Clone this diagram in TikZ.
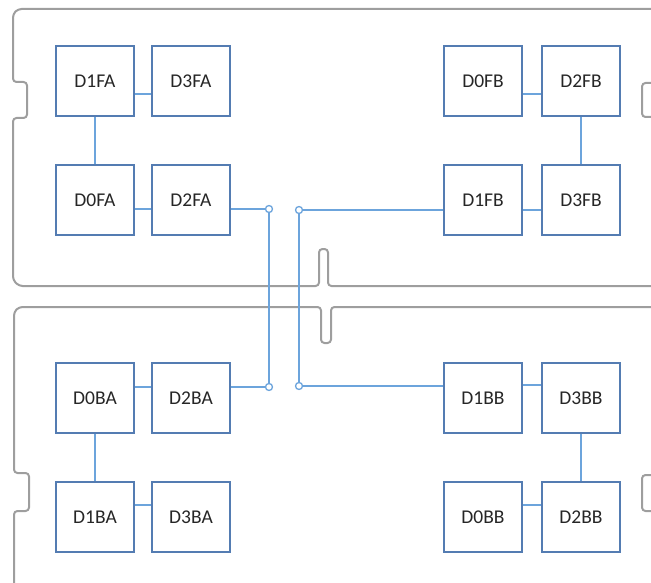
\documentclass[tikz,border=0pt]{standalone}
\usepackage{fontspec}
\setmainfont{Carlito}
\usepackage{xcolor}
\usepackage{tikz}
\definecolor{boxblue}{RGB}{84,124,178}
\definecolor{wireblue}{RGB}{108,164,220}
\definecolor{boardgray}{RGB}{158,158,158}
\tikzstyle{box}=[fill=white, draw=boxblue, line width=1.4pt, shape=rectangle, minimum width=78pt, minimum height=70pt, inner sep=0pt, font=\fontsize{19.5}{22}\selectfont, text=black!85]
\tikzstyle{wire}=[-, draw=wireblue, line width=1.4pt]
\tikzstyle{junction}=[fill=white, draw=wireblue, line width=1.3pt, shape=circle, minimum size=7pt, inner sep=0pt]
\tikzstyle{board}=[draw=boardgray, line width=2pt, rounded corners=3.5pt]
\pgfdeclarelayer{nodelayer}
\pgfdeclarelayer{edgelayer}
\pgfsetlayers{edgelayer,nodelayer,main}

\begin{document}
\begin{tikzpicture}[x=1pt, y=-1pt]
    	\useasboundingbox (0,0) rectangle (651,583);
    	\begin{pgfonlayer}{nodelayer}
    		\node [style=box] (D1FA) at (95, 81) {D1FA};
    		\node [style=box] (D3FA) at (191, 81) {D3FA};
    		\node [style=box] (D0FA) at (95, 200) {D0FA};
    		\node [style=box] (D2FA) at (191, 200) {D2FA};
    		\node [style=box] (D0FB) at (483, 81) {D0FB};
    		\node [style=box] (D2FB) at (581, 81) {D2FB};
    		\node [style=box] (D1FB) at (483, 200) {D1FB};
    		\node [style=box] (D3FB) at (581, 200) {D3FB};
    		\node [style=box] (D0BA) at (95, 398) {D0BA};
    		\node [style=box] (D2BA) at (191, 398) {D2BA};
    		\node [style=box] (D1BA) at (95, 517) {D1BA};
    		\node [style=box] (D3BA) at (191, 517) {D3BA};
    		\node [style=box] (D1BB) at (483, 398) {D1BB};
    		\node [style=box] (D3BB) at (581, 398) {D3BB};
    		\node [style=box] (D0BB) at (483, 517) {D0BB};
    		\node [style=box] (D2BB) at (581, 517) {D2BB};
    		\node [style=junction] (j1) at (269, 209) {};
    		\node [style=junction] (j2) at (299, 210) {};
    		\node [style=junction] (j3) at (269, 387) {};
    		\node [style=junction] (j4) at (299, 386) {};
    	\end{pgfonlayer}
    	\begin{pgfonlayer}{edgelayer}
    		% upper board
    		\draw [style=board] (651, 9) -- (18, 9) -- (13, 14) -- (13, 82) -- (27, 82) -- (27, 118) -- (13, 118) -- (13, 280) -- (19, 286) -- (319, 286) -- (319, 249) -- (328, 249) -- (328, 286) -- (651, 286);
    		\draw [style=board] (651, 83) -- (642, 83) -- (642, 117) -- (651, 117);
    		% lower board
    		\draw [style=board] (651, 307) -- (331, 307) -- (331, 343) -- (321, 343) -- (321, 307) -- (19, 307) -- (14, 312) -- (14, 473) -- (29, 473) -- (29, 511) -- (14, 511) -- (14, 583);
    		\draw [style=board] (651, 475) -- (642, 475) -- (642, 511) -- (651, 511);
    		% links on each board
    		\draw [style=wire] ([yshift=-13pt]D1FA.east) to ([yshift=-13pt]D3FA.west);
    		\draw [style=wire] (D1FA) to (D0FA);
    		\draw [style=wire] ([yshift=-9pt]D0FA.east) to ([yshift=-9pt]D2FA.west);
    		\draw [style=wire] ([yshift=-13pt]D0FB.east) to ([yshift=-13pt]D2FB.west);
    		\draw [style=wire] (D2FB) to (D3FB);
    		\draw [style=wire] ([yshift=-10pt]D1FB.east) to ([yshift=-10pt]D3FB.west);
    		\draw [style=wire] ([yshift=11pt]D0BA.east) to ([yshift=11pt]D2BA.west);
    		\draw [style=wire] (D0BA) to (D1BA);
    		\draw [style=wire] ([yshift=12pt]D1BA.east) to ([yshift=12pt]D3BA.west);
    		\draw [style=wire] ([yshift=13pt]D1BB.east) to ([yshift=13pt]D3BB.west);
    		\draw [style=wire] (D3BB) to (D2BB);
    		\draw [style=wire] ([yshift=12pt]D0BB.east) to ([yshift=12pt]D2BB.west);
    		% links between boards
    		\draw [style=wire] (D2FA.east |- j1) to (j1);
    		\draw [style=wire] (j1) to (j3);
    		\draw [style=wire] (D2BA.east |- j3) to (j3);
    		\draw [style=wire] (D1FB.west |- j2) to (j2);
    		\draw [style=wire] (j2) to (j4);
    		\draw [style=wire] (D1BB.west |- j4) to (j4);
    	\end{pgfonlayer}
    \end{tikzpicture}
\end{document}
